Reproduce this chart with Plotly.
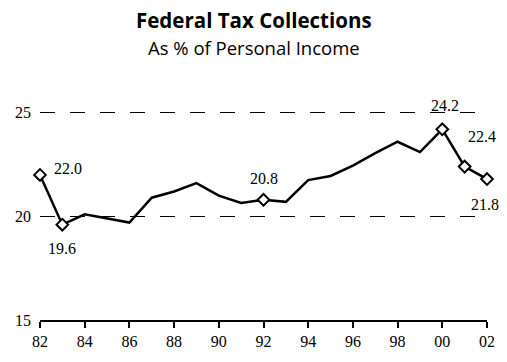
import plotly.graph_objects as go

years = list(range(1982, 2003))
values = [22.0, 19.6, 20.1, 19.9, 19.7, 20.9, 21.2, 21.6, 21.0, 20.65, 20.8,
          20.7, 21.75, 21.95, 22.45, 23.05, 23.6, 23.1, 24.2, 22.4, 21.8]
marked_years = [1982, 1983, 1992, 2000, 2001, 2002]
label_texts = ["22.0", "19.6", "20.8", "24.2", "22.4", "21.8"]
label_shifts = [(28, 6), (0, -24), (0, 21), (3, 24), (17, 30), (-2, -25)]
tick_years = list(range(1982, 2003, 2))
tick_text = ["82", "84", "86", "88", "90", "92", "94", "96", "98", "00", "02"]

val_by_year = dict(zip(years, values))
marked_vals = [val_by_year[y] for y in marked_years]

SERIF = "Liberation Serif"
SANS = "Open Sans"

fig = go.Figure()
fig.add_trace(go.Scatter(x=years, y=values, mode="lines",
                         line=dict(color="black", width=2.5),
                         hoverinfo="skip", showlegend=False))
fig.add_trace(go.Scatter(x=marked_years, y=marked_vals, mode="markers",
                         marker=dict(symbol="diamond", size=9, color="white",
                                     line=dict(color="black", width=2)),
                         cliponaxis=False, showlegend=False))

for yr, v, t, (dx, dy) in zip(marked_years, marked_vals, label_texts, label_shifts):
    fig.add_annotation(x=yr, y=v, text=t, showarrow=False, xshift=dx, yshift=dy,
                       font=dict(family=SERIF, size=16, color="black"))

fig.add_annotation(xref="paper", yref="paper", x=(254 - 40) / 447, y=(362 - 38 - 19) / 232,
                   text="<b>Federal Tax Collections</b>", showarrow=False,
                   xanchor="center", yanchor="middle",
                   font=dict(family=SANS, size=20.5, color="black"))
fig.add_annotation(xref="paper", yref="paper", x=(254 - 40) / 447, y=(362 - 38 - 47) / 232,
                   text="As % of Personal Income", showarrow=False,
                   xanchor="center", yanchor="middle",
                   font=dict(family=SANS, size=18.5, color="black"))

fig.update_layout(
    width=507, height=362,
    margin=dict(l=40, r=20, t=92, b=38),
    paper_bgcolor="white", plot_bgcolor="white",
    font=dict(family=SERIF, size=16, color="black"),
    xaxis=dict(range=[1982, 2002], tickvals=tick_years, ticktext=tick_text,
               showgrid=False, zeroline=False, showline=True, linecolor="black",
               linewidth=1.5, ticks="outside", ticklen=6, tickcolor="black",
               tickwidth=1.5,
               tickfont=dict(family=SERIF, size=16, color="black")),
    yaxis=dict(range=[15, 26], tickvals=[15, 20, 25], showgrid=True,
               gridcolor="black", griddash="15px,15px", gridwidth=1, zeroline=False,
               showline=False, ticks="", ticklabelstandoff=8,
               tickfont=dict(family=SERIF, size=16, color="black")),
)

fig.write_html("out.html")
